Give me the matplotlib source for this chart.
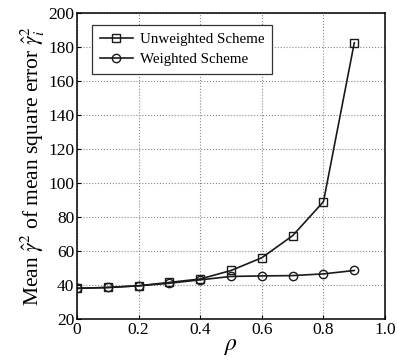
import matplotlib
matplotlib.use('Agg')
import matplotlib.pyplot as plt

rho = [0.0, 0.1, 0.2, 0.3, 0.4, 0.5, 0.6, 0.7, 0.8, 0.9]
unweighted = [38, 38.5, 39.5, 41.5, 43.5, 48.5, 56, 69, 89, 182.5]
weighted = [38, 38.5, 39.5, 41, 43, 45, 45.3, 45.5, 46.5, 48.5]

plt.rcParams['font.family'] = 'Liberation Serif'
plt.rcParams['mathtext.fontset'] = 'stix'

fig = plt.figure(figsize=(3.97, 3.62), dpi=100)
ax = fig.add_axes([0.194, 0.119, 0.776, 0.845])

ax.plot(rho, unweighted, color='#1a1a1a', lw=1.2, marker='s', ms=5.5,
        mfc='none', mec='#1a1a1a', mew=1.0, label='Unweighted Scheme')
ax.plot(rho, weighted, color='#1a1a1a', lw=1.2, marker='o', ms=6,
        mfc='none', mec='#1a1a1a', mew=1.0, label='Weighted Scheme')

ax.set_xlim(0, 1.0)
ax.set_ylim(20, 200)
ax.set_xticks([0, 0.2, 0.4, 0.6, 0.8, 1.0])
ax.set_xticklabels(['0', '0.2', '0.4', '0.6', '0.8', '1.0'])
ax.set_yticks(range(20, 201, 20))
ax.tick_params(labelsize=12.5, direction='in', length=3, pad=2)
ax.grid(True, linestyle=':', color='#888888', lw=0.8)
for s in ax.spines.values():
    s.set_linewidth(1.1)

ax.set_xlabel(r'$\rho$', fontsize=17, labelpad=-1)
ax.set_ylabel(r'Mean $\hat{\gamma}^2$ of mean square error $\hat{\gamma}_i^2$',
              fontsize=15.5, labelpad=1)

leg = ax.legend(loc='upper left', fontsize=10.8, fancybox=False, framealpha=1,
                edgecolor='#333333', handlelength=2.2, handletextpad=0.5,
                borderpad=0.5, labelspacing=0.45, bbox_to_anchor=(0.025, 0.985))
leg.get_frame().set_linewidth(0.9)

fig.savefig('out.png', dpi=100)
